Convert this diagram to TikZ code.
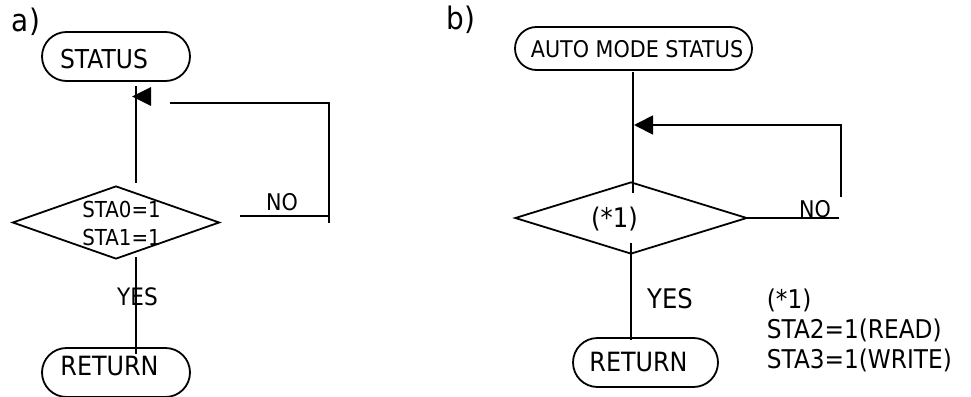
\documentclass[tikz,border=0pt]{standalone}
\usepackage{fontspec}
\setmainfont{DejaVu Sans}[FakeStretch=0.9]
\usetikzlibrary{shapes.geometric,arrows.meta}
\begin{document}
\begin{tikzpicture}[x=1pt,y=-1pt,line width=1.8pt,
  term/.style={draw, rectangle, rounded corners=#1, inner sep=0pt},
  dec/.style={draw, diamond, inner sep=0pt},
  txt/.style={inner sep=0pt, anchor=base, font=\fontsize{#1}{#1}\selectfont},
  ltxt/.style={inner sep=0pt, anchor=base west, font=\fontsize{#1}{#1}\selectfont}]
\useasboundingbox (0,0) rectangle (971,396);

% ---------- panel a ----------
\node[ltxt=31] (la) at (11,32) {a)};
\node[term=24.5pt, minimum width=148pt, minimum height=49pt] (status) at (116,56.5) {};
\node[txt=26] (statusT) at (104,68) {STATUS};
\node[dec, minimum width=207pt, minimum height=73pt] (dA) at (116,222.5) {};
\node[txt=22] (sta0) at (121.5,217) {STA0=1};
\node[txt=22] (sta1) at (121.5,245) {STA1=1};
\node[txt=23] (noA) at (282,210) {NO};
\node[txt=24] (yesA) at (137.5,305) {YES};
\node[term=24.5pt, minimum width=148pt, minimum height=49pt] (retA) at (116,372.5) {};
\node[txt=26.5] (retAT) at (109.5,375) {RETURN};

\coordinate (a1) at (136,86);
\coordinate (a2) at (136,183);
\coordinate (a3) at (136,257);
\coordinate (a4) at (136,354);
\coordinate (a5) at (240,216);
\coordinate (a6) at (329,216);
\coordinate (a7) at (329,223);
\coordinate (a8) at (329,103);
\coordinate (a9) at (170,103);
\draw (a1) -- (a2);
\draw (a3) -- (a4);
\draw (a5) -- (a6);
\draw (a7) -- (a8) -- (a9);
\fill (132,96.5) -- (151,87) -- (151,106) -- cycle;

% ---------- panel b ----------
\node[ltxt=31] (lb) at (446,30) {b)};
\node[term=21.5pt, minimum width=237pt, minimum height=43pt] (auto) at (633.5,48.5) {};
\node[txt=23] (autoT) at (637,58) {AUTO MODE STATUS};
\node[dec, minimum width=232pt, minimum height=72pt] (dB) at (631,218) {};
\node[txt=27] (starB) at (614.5,227) {(*1)};
\node[txt=23] (noB) at (815,217) {NO};
\node[txt=27] (yesB) at (670,308) {YES};
\node[term=24.5pt, minimum width=145pt, minimum height=49pt] (retB) at (645.5,362.5) {};
\node[txt=26.5] (retBT) at (638.5,371) {RETURN};
\node[ltxt=25.8] (n1) at (766,308) {(*1)};
\node[ltxt=25.8] (n2) at (766,338) {STA2=1(READ)};
\node[ltxt=25.8] (n3) at (766,368) {STA3=1(WRITE)};

\coordinate (b1) at (633,72);
\coordinate (b2) at (633,193);
\coordinate (b3) at (631,243);
\coordinate (b4) at (631,340);
\coordinate (b5) at (747,218);
\coordinate (b6) at (839,218);
\coordinate (b7) at (841,197);
\coordinate (b8) at (634,125);
\draw (b1) -- (b2);
\draw (b3) -- (b4);
\draw (b5) -- (b6);
\draw[-{Triangle[length=19pt,width=19pt]}] (b7) |- (b8);
\end{tikzpicture}
\end{document}
